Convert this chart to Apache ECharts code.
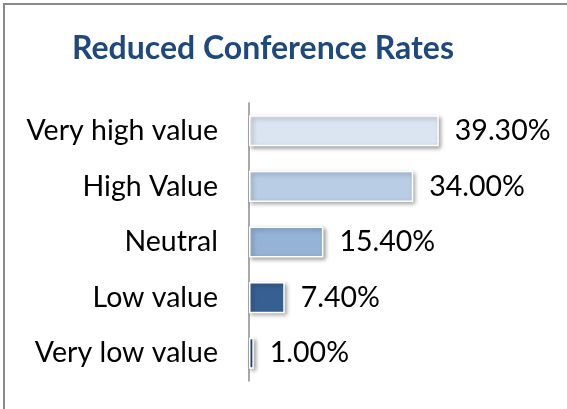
<!DOCTYPE html>
<html>
<head>
<meta charset="utf-8">
<script src="https://cdn.jsdelivr.net/npm/echarts@6/dist/echarts.min.js"></script>
<style>
  html, body { margin: 0; padding: 0; background: #fff; }
  #chart { width: 567px; height: 409px; }
</style>
</head>
<body>
<div id="chart"></div>
<script>
// categories, top to bottom
var categories = ['Very high value', 'High Value', 'Neutral', 'Low value', 'Very low value'];
// percentages
var rates = [39.3, 34.0, 15.4, 7.4, 1.0];
var barColors = ['#DBE5F1', '#B9CDE5', '#95B3D7', '#376092', '#254A7A'];

var chart = echarts.init(document.getElementById('chart'));

chart.setOption({
    animation: false,
    title: {
        text: 'Reduced Conference Rates',
        left: 263,
        top: 33,
        padding: 0,
        textAlign: 'center',
        textStyle: {
            color: '#1F497D',
            fontFamily: 'Lato',
            fontWeight: 'bold',
            fontSize: 32
        }
    },
    graphic: [{
        type: 'rect',
        shape: { x: 4, y: 4, width: 620, height: 460 },
        style: { fill: 'none', stroke: '#8a8a8a', lineWidth: 2 },
        silent: true
    }],
    grid: {
        left: 249,
        top: 103,
        width: 241.5,
        bottom: 28
    },
    xAxis: {
        type: 'value',
        min: 0,
        max: 50,
        show: false
    },
    yAxis: {
        type: 'category',
        data: categories,
        inverse: true,
        axisLine: { show: true, lineStyle: { color: '#8c8c8c', width: 1.5 } },
        axisTick: { show: false },
        axisLabel: {
            margin: 31,
            color: '#000',
            fontFamily: 'Lato',
            fontSize: 28.5
        }
    },
    series: [{
        type: 'bar',
        barWidth: '56%',
        data: rates.map(function (v, i) {
            return { value: v, itemStyle: { color: barColors[i] } };
        }),
        itemStyle: {
            borderColor: '#fff',
            borderWidth: 1.5,
            shadowColor: 'rgba(0,0,0,0.35)',
            shadowBlur: 4,
            shadowOffsetX: 2,
            shadowOffsetY: 2
        },
        label: {
            show: true,
            position: 'right',
            distance: 16,
            color: '#000',
            fontFamily: 'Lato',
            fontSize: 28.5,
            formatter: function (p) { return p.value.toFixed(2) + '%'; }
        }
    }]
});
</script>
</body>
</html>
